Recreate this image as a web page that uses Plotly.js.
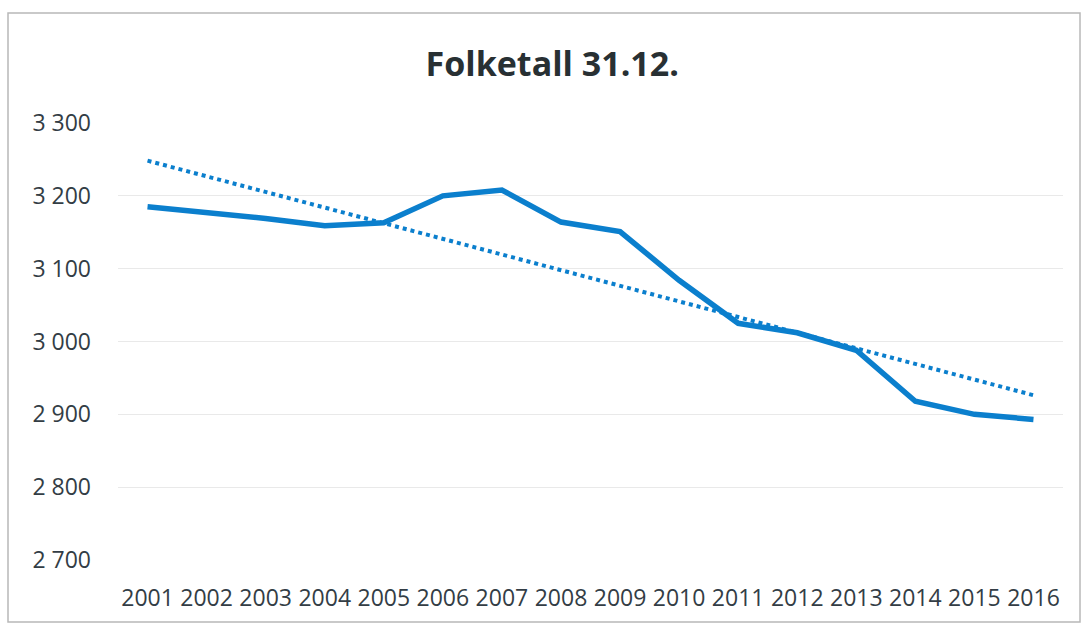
<!DOCTYPE html>
<html>
<head>
<meta charset="utf-8">
<script src="https://cdn.plot.ly/plotly-3.0.1.min.js"></script>
<style>
  html, body { margin: 0; padding: 0; background: #ffffff; }
  #chart { width: 1085px; height: 626px; }
</style>
</head>
<body>
<div id="chart"></div>
<script>
// Data
const years = [2001, 2002, 2003, 2004, 2005, 2006, 2007, 2008, 2009, 2010, 2011, 2012, 2013, 2014, 2015, 2016];
const population = [3185, 3177, 3169, 3159, 3163, 3200, 3208, 3164, 3151, 3084, 3025, 3012, 2988, 2918, 2900, 2893];
const yTicks = [2700, 2800, 2900, 3000, 3100, 3200, 3300];
const chartTitle = "Folketall 31.12.";

// Linear trendline (least squares) as in the spreadsheet
function linearTrend(xs, ys) {
  const n = xs.length;
  const mx = xs.reduce((a, b) => a + b, 0) / n;
  const my = ys.reduce((a, b) => a + b, 0) / n;
  let sxy = 0, sxx = 0;
  for (let i = 0; i < n; i++) {
    sxy += (xs[i] - mx) * (ys[i] - my);
    sxx += (xs[i] - mx) * (xs[i] - mx);
  }
  const slope = sxy / sxx;
  return xs.map(x => my + slope * (x - mx));
}
const trend = linearTrend(years, population);

const blue = '#0b7fcd';
const textColor = '#333d45';

const traces = [
  {
    x: years, y: population, type: 'scatter', mode: 'lines',
    line: { color: blue, width: 5.5 }, name: 'Folketall', hoverinfo: 'x+y'
  },
  {
    x: years, y: trend, type: 'scatter', mode: 'lines',
    line: { color: blue, width: 4, dash: 'dot' }, name: 'Lineær', hoverinfo: 'skip'
  }
];

const layout = {
  width: 1085, height: 626,
  paper_bgcolor: '#ffffff', plot_bgcolor: '#ffffff',
  margin: { l: 118, r: 22, t: 123, b: 66 },
  showlegend: false,
  separators: '. ',
  title: {
    text: '<b>' + chartTitle + '</b>',
    x: 0.509, xanchor: 'center', xref: 'container',
    y: 0.897, yanchor: 'middle', yref: 'container',
    font: { family: 'Open Sans, sans-serif', size: 34, color: '#283033' }
  },
  xaxis: {
    type: 'linear',
    range: [2000.5, 2016.5],
    tickmode: 'array', tickvals: years, ticktext: years.map(String),
    showgrid: false, zeroline: false, showline: false,
    ticks: '', ticklabelstandoff: 22,
    tickfont: { family: 'Open Sans, sans-serif', size: 23, color: textColor }
  },
  yaxis: {
    range: [2700, 3300],
    tickmode: 'array', tickvals: yTicks, tickformat: ',d',
    showgrid: true, gridcolor: '#e9e9e9', gridwidth: 1,
    zeroline: false, showline: false, ticks: '',
    ticklabelstandoff: 26,
    tickfont: { family: 'Open Sans, sans-serif', size: 23, color: textColor }
  },
  shapes: [
    {
      type: 'rect', xref: 'paper', yref: 'paper',
      x0: -0.1164, x1: 1.018, y0: -0.142, y1: 1.2517,
      line: { color: '#b8b8b8', width: 1.5 }, fillcolor: 'rgba(0,0,0,0)', layer: 'below'
    }
  ]
};

Plotly.newPlot('chart', traces, layout, { displayModeBar: false, staticPlot: true });
</script>
</body>
</html>
